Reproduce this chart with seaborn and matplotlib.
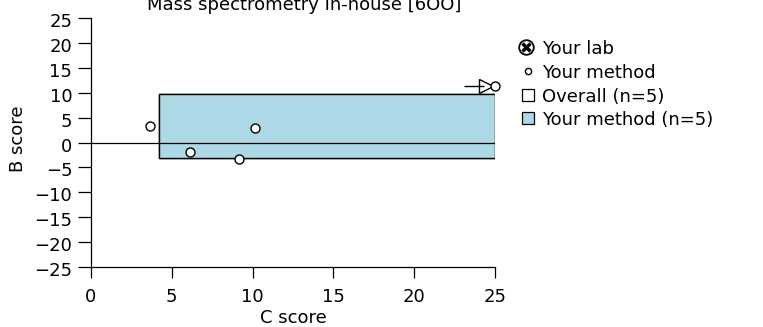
import matplotlib
matplotlib.use("Agg")
import matplotlib.pyplot as plt
import seaborn as sns
import pandas as pd
from matplotlib.patches import Rectangle
from matplotlib.lines import Line2D
import matplotlib.transforms as mtrans

# ---- data ----
title = "Mass spectrometry In-house [6OO]"
method_c = [3.65, 6.1, 9.15, 10.15, 25.0]
method_b = [3.3, -1.9, -3.3, 2.9, 11.3]
off_scale = [False, False, False, False, True]   # point beyond the C-score axis (arrow)
box_c = [4.2, 25.0]      # Your method box (C range)
box_b = [-3.1, 9.7]      # Your method box (B range)
x_ticks = [0, 5, 10, 15, 20, 25]
y_ticks = [25, 20, 15, 10, 5, 0, -5, -10, -15, -20, -25]
legend_labels = ["Your lab", "Your method", "Overall (n=5)", "Your method (n=5)"]

BOX_COLOR = "#ADD8E6"
FS = 13

sns.set_style("white")
plt.rcParams["font.family"] = ["DejaVu Sans"]
plt.rcParams["font.size"] = FS
plt.rcParams["axes.unicode_minus"] = True
plt.rcParams["text.color"] = "black"
plt.rcParams["axes.labelcolor"] = "black"
plt.rcParams["xtick.color"] = "black"
plt.rcParams["ytick.color"] = "black"

W, H = 763, 327
fig = plt.figure(figsize=(W/100, H/100), dpi=100)
ax = fig.add_axes([91/W, 1-267/H, (495-91)/W, (267-18)/H])

ax.set_xlim(0, 25)
ax.set_ylim(-25, 25)

# boxes (overall, then your method on top)
ax.add_patch(Rectangle((box_c[0], box_b[0]), box_c[1]-box_c[0], box_b[1]-box_b[0],
                       facecolor="white", edgecolor="black", lw=1.0, zorder=1))
ax.add_patch(Rectangle((box_c[0], box_b[0]), box_c[1]-box_c[0], box_b[1]-box_b[0],
                       facecolor=BOX_COLOR, edgecolor="black", lw=1.0, zorder=2))

# zero line
ax.plot([0, 25], [0, 0], color="black", lw=0.9, zorder=3)

df = pd.DataFrame({"C": [min(c, 25) for c in method_c], "B": method_b})
sns.scatterplot(data=df, x="C", y="B", ax=ax, marker="o", s=42,
                facecolor="white", edgecolor="black", linewidth=1.0,
                zorder=5, clip_on=False, legend=False)

# off-scale arrows
for c, b, off in zip(method_c, method_b, off_scale):
    if off:
        tri = ax.transData + mtrans.ScaledTranslation(-9/100, 0, fig.dpi_scale_trans)
        ax.plot([min(c, 25)], [b], marker=">", ms=10, mfc="white", mec="black",
                mew=1.0, transform=tri, clip_on=False, zorder=4)
        ln = ax.transData + mtrans.ScaledTranslation(-21/100, 0, fig.dpi_scale_trans)
        ax.plot([min(c, 25)], [b], marker="_", ms=14, mec="black", mew=1.0,
                transform=ln, clip_on=False, zorder=4)

# axes styling (R-like)
for s in ["top", "right"]:
    ax.spines[s].set_visible(False)
for s in ["left", "bottom"]:
    ax.spines[s].set_linewidth(0.9)
    ax.spines[s].set_color("black")
ax.set_xticks(x_ticks)
ax.set_xticklabels([str(t).replace("-", "\u2212") for t in x_ticks])
ax.set_yticks(y_ticks)
ax.set_yticklabels([str(t).replace("-", "\u2212") for t in y_ticks])
ax.tick_params(axis="x", length=8, width=0.9, color="black", labelsize=FS, pad=7, direction="out", bottom=True)
ax.tick_params(axis="y", length=9.5, width=0.9, color="black", labelsize=FS, pad=4, direction="out", left=True)
shift = mtrans.ScaledTranslation(0, -2/100, fig.dpi_scale_trans)
for lbl in ax.get_yticklabels():
    lbl.set_transform(lbl.get_transform() + shift)
ax.set_xlabel("C score", fontsize=FS)
ax.set_ylabel("B score", fontsize=FS)
ax.xaxis.set_label_coords(0.5, (267-309)/249)
ax.yaxis.set_label_coords((18-91)/404, (267-139)/249)
ax.yaxis.label.set_va("center")
ax.grid(False)

fig.text(304/W, 1-10/H, title, ha="center", va="baseline", fontsize=FS)

# legend (R-style, drawn at figure level)
rows_y = [47, 71, 95, 118]
mx, tx = 526, 542
def fpt(x, y):
    return x / W, 1 - y / H
x0, y0 = fpt(mx, rows_y[0])
fig.add_artist(Line2D([x0], [y0], transform=fig.transFigure, ls="none", marker="o", ms=10.5,
                      mfc="white", mec="black", mew=1.3))
fig.add_artist(Line2D([x0], [y0], transform=fig.transFigure, ls="none", marker="x", ms=5.2,
                      mec="black", mew=2.5))
x1, y1 = fpt(mx + 2, rows_y[1])
fig.add_artist(Line2D([x1], [y1], transform=fig.transFigure, ls="none", marker="o", ms=4.5,
                      mfc="white", mec="black", mew=1.0))
x2, y2 = fpt(mx + 2, rows_y[2])
fig.add_artist(Line2D([x2], [y2], transform=fig.transFigure, ls="none", marker="s", ms=8.5,
                      mfc="white", mec="black", mew=0.9))
x3, y3 = fpt(mx + 2, rows_y[3])
fig.add_artist(Line2D([x3], [y3], transform=fig.transFigure, ls="none", marker="s", ms=8.5,
                      mfc=BOX_COLOR, mec="black", mew=0.9))
for lab, ry in zip(legend_labels, rows_y):
    fx, fy = fpt(tx, ry)
    fig.text(fx, fy, lab, ha="left", va="center_baseline", fontsize=FS)

fig.savefig("out.png", dpi=100)
